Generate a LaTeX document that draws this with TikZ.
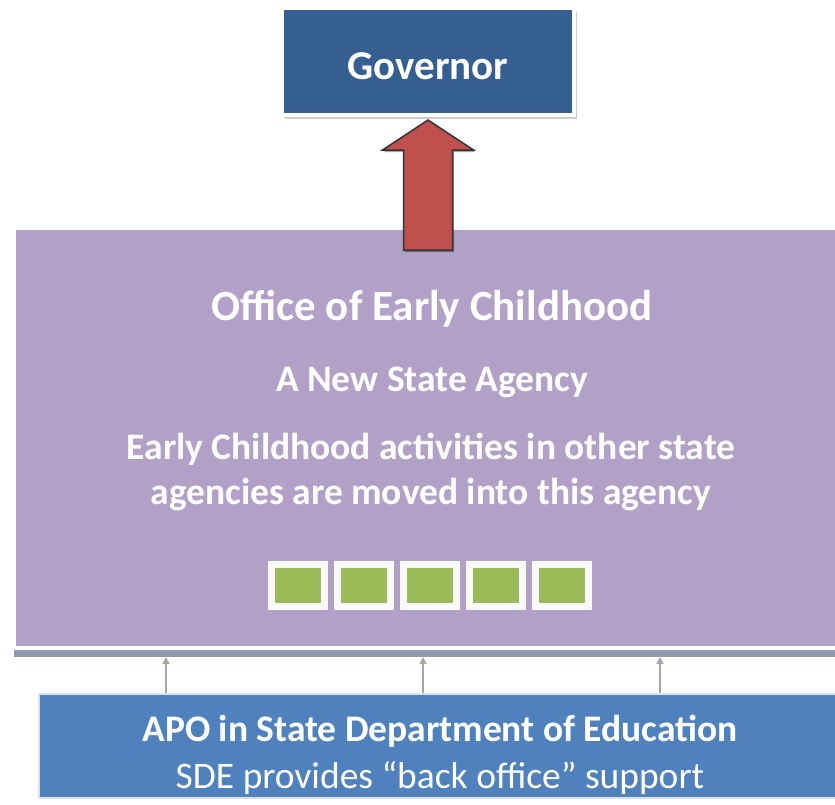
\documentclass[tikz,border=0pt]{standalone}
\usepackage{fontspec}
\setmainfont{Carlito}
\usepackage{tikz}
\usetikzlibrary{shadows}
\usetikzlibrary{arrows.meta}
\usetikzlibrary{calc}
\definecolor{govblue}{HTML}{365F91}
\definecolor{agencypurple}{HTML}{B2A1C7}
\definecolor{arrowred}{HTML}{C0504D}
\definecolor{unitgreen}{HTML}{9BBB59}
\definecolor{sdeblue}{HTML}{4F81BD}
\definecolor{linkgray}{HTML}{A6A6A6}
\definecolor{shadegray}{HTML}{8E99AE}
\tikzset{
  % arrow tip for the small support links
  >={Triangle[length=7pt,width=7pt]},
  feed/.style={draw=linkgray, line width=1.6pt, ->},
  whitetext/.style={text=white, align=center, inner sep=0pt}
}

\begin{document}
\begin{tikzpicture}[x=1pt, y=-1pt]
    % Define styles
    \tikzstyle{govbox} = [rectangle, fill=govblue, draw=white, line width=4pt, minimum width=292pt, minimum height=107pt, text=white, text height=36pt, drop shadow={shadow xshift=3pt, shadow yshift=-4pt, fill=black, opacity=0.2}]
    \tikzstyle{agencybox} = [rectangle, fill=agencypurple, draw=white, line width=4pt, minimum width=848pt, minimum height=420pt, drop shadow={shadow xshift=0pt, shadow yshift=-9pt, fill=shadegray, opacity=1}]
    \tikzstyle{unitbox} = [rectangle, fill=unitgreen, draw=white!95!gray, line width=7pt, minimum width=53pt, minimum height=42pt, inner sep=0pt, drop shadow={shadow xshift=2pt, shadow yshift=-3pt, fill=black!55!agencypurple, opacity=0.7}]
    \tikzstyle{sdebox} = [rectangle, fill=sdeblue, draw=gray!25, line width=1.5pt, minimum width=822pt, minimum height=104pt]
    \tikzstyle{bigarrow} = [fill=arrowred, draw=black!80, line width=1.5pt, line join=miter, drop shadow={shadow xshift=1.5pt, shadow yshift=-2pt, fill=black, opacity=0.35}]

    \useasboundingbox (0,0) rectangle (835,804);

    % Place nodes
    \node [govbox, font=\fontsize{41}{49}\selectfont\bfseries] (gov) at (428,61.5) {Governor};
    \node [agencybox] (office) at (438,438) {};
    \node [sdebox] (apo) at (450,746) {};

    \node [whitetext, font=\fontsize{43}{50}\selectfont\bfseries] (officeTitle) at (432,309) {Office of Early Childhood};
    \node [whitetext, font=\fontsize{37.5}{45}\selectfont\bfseries] (officeSub) at (432,382) {A New State Agency};
    \node [whitetext, font=\fontsize{37.5}{45}\selectfont\bfseries] (officeNote) at (431,472) {Early Childhood activities in other state\\agencies are moved into this agency};

    \foreach \i in {0,...,4}
      \node [unitbox] (unit\i) at (298+66*\i,585.5) {};

    \node [whitetext, font=\fontsize{37.5}{45}\selectfont\bfseries] (apoTitle) at (440,731) {APO in State Department of Education};
    \node [whitetext, font=\fontsize{37.5}{45}\selectfont] (apoNote) at (440,778) {SDE provides “back office” support};

    % Draw edges
    \coordinate (tip) at ([yshift=-3pt]gov.south);
    \coordinate (tail) at ([yshift=-24pt]office.north -| gov.south);
    \filldraw [bigarrow] ([xshift=-24.5pt]tail) -- ([xshift=-24.5pt,yshift=-30pt]tip) -- ([xshift=-45.5pt,yshift=-30pt]tip) -- (tip)
      -- ([xshift=45.5pt,yshift=-30pt]tip) -- ([xshift=24.5pt,yshift=-30pt]tip) -- ([xshift=24.5pt]tail) -- cycle;

    \foreach \x in {166,423,660}
      \draw [feed] (\x,0 |- apo.north) -- ([yshift=-7pt]\x,0 |- office.south);

\end{tikzpicture}
\end{document}
